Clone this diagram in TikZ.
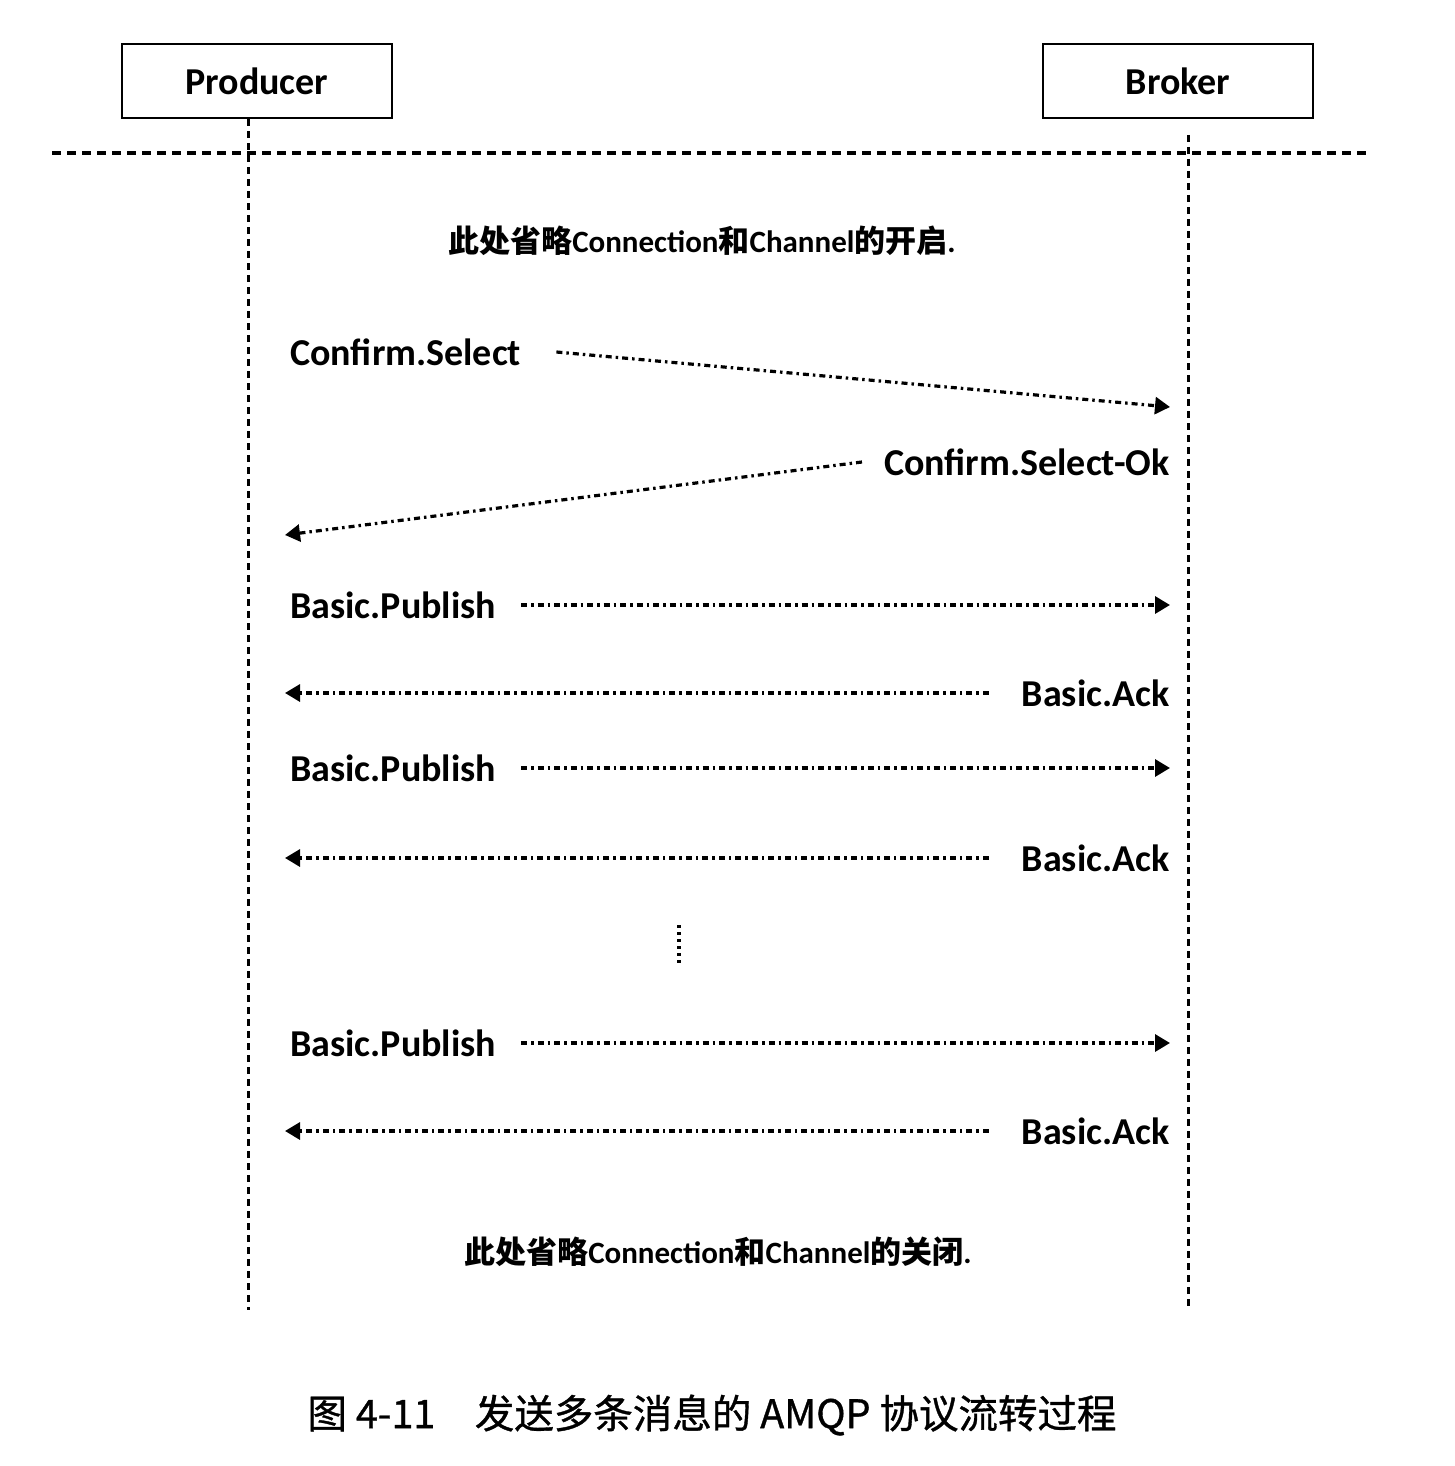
\documentclass[tikz,border=0pt]{standalone}
\usepackage{fontspec}
\setmainfont{Carlito}
\newfontfamily\cjk[FakeBold=0.9]{Noto Sans CJK SC}
\newfontfamily\cjkb{Noto Sans CJK SC Bold}
\usetikzlibrary{arrows.meta}
\begin{document}
\begin{tikzpicture}[x=1pt,y=-1pt,
  actor/.style={draw,line width=2.9pt,minimum width=270pt,minimum height=74pt,
    font=\fontsize{38}{42}\selectfont\bfseries,inner sep=0pt},
  lifeline/.style={line width=3pt,dash pattern=on 7pt off 5pt},
  divider/.style={line width=3.2pt,dash pattern=on 9pt off 6pt},
  msg/.style={line width=3.2pt,dash pattern=on 6pt off 4pt on 2.5pt off 4pt,
    -{Triangle[length=15pt,width=17pt]}},
  lbl/.style={font=\fontsize{38}{42}\selectfont\bfseries,inner sep=0pt},
  note/.style={font=\fontsize{31}{36}\selectfont\bfseries,inner sep=0pt}]
\useasboundingbox (0,0) rectangle (1454,1466);
\fill[white] (0,0) rectangle (1454,1466);

% participants
\node[actor] (prod) at (257,81) {Producer};
\node[actor] (brok) at (1178,81) {Broker};
\coordinate (prodEnd) at (248,1310);
\coordinate (brokTop) at (1188,135);
\coordinate (brokEnd) at (1188,1310);
\draw[lifeline] (prod.south -| prodEnd) -- (prodEnd);
\draw[lifeline] (brokTop) -- (brokEnd);

% divider under the headers
\coordinate (divL) at (52,153);
\coordinate (divR) at (1370,153);
\draw[divider] (divL) -- (divR);

% opening note
\node[note] (open) at (702,241) {{\cjkb 此处省略}Connection{\cjkb 和}Channel{\cjkb 的开启}.};

% confirm mode negotiation
\node[lbl,anchor=west] (cs) at (290,352) {Confirm.Select};
\coordinate (csEnd) at (1170,407);
\draw[msg] (cs.east)++(35pt,0) -- (csEnd);

\node[lbl,anchor=east] (cso) at (1170,462) {Confirm.Select-Ok};
\coordinate (csoEnd) at (285,535);
\draw[msg] (cso.west)++(-22pt,0) -- (csoEnd);

% publish / ack pairs
\foreach \n/\yp/\ya in {1/605/693, 2/768/858, 3/1043/1131}{
  \node[lbl,anchor=west] (pub\n) at (290,\yp) {Basic.Publish};
  \coordinate (pubEnd\n) at (1170,\yp);
  \draw[msg] (pub\n.east)++(25pt,0) -- (pubEnd\n);
  \node[lbl,anchor=east] (ack\n) at (1170,\ya) {Basic.Ack};
  \coordinate (ackEnd\n) at (285,\ya);
  \draw[msg] (ack\n.west)++(-33pt,0) -- (ackEnd\n);
}

% ellipsis between the repeated exchanges
\coordinate (dotsTop) at (679,925);
\coordinate (dotsBot) at (679,965);
\draw[line width=3.5pt,dash pattern=on 3pt off 4pt] (dotsTop) -- (dotsBot);

% closing note
\node[note] (close) at (718,1252) {{\cjkb 此处省略}Connection{\cjkb 和}Channel{\cjkb 的关闭}.};

% caption
\node[inner sep=0pt,font=\cjk\fontsize{39.5}{46}\selectfont] (cap) at (712,1415)
  {图 4-11\hspace{1em}发送多条消息的 AMQP 协议流转过程};
\end{tikzpicture}
\end{document}
